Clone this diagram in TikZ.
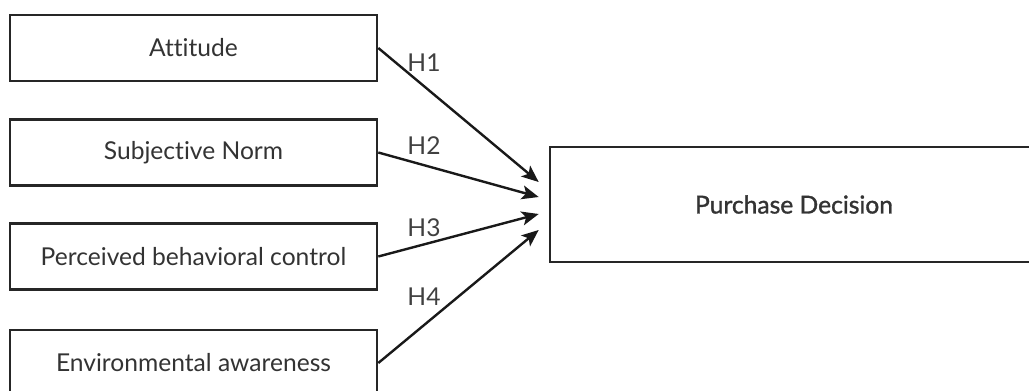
\documentclass[tikz,border=0pt]{standalone}
\usepackage{fontspec}
\setmainfont{Lato}[Ligatures={NoCommon,NoContextual}]
\usetikzlibrary{arrows.meta}
\begin{document}
\begin{tikzpicture}[x=1pt,y=-1pt]
\tikzset{
  box/.style={draw=black!85,line width=2.6pt,minimum width=367pt,minimum height=66pt,inner sep=0pt,text=black!80,font=\fontsize{24.6}{30}\selectfont},
  hyp/.style={-{Stealth[length=17pt,width=14pt,inset=4pt]},line width=2.4pt,draw=black!90},
  lab/.style={text=black!75,font=\fontsize{24.6}{30}\selectfont}
}
\useasboundingbox (0,0) rectangle (1029,391);
% the four factors
\node[box] (att) at (193.5,48) {Attitude};
\node[box] (sn) at (193.5,152.5) {Subjective Norm};
\node[box] (pbc) at (193.5,256.5) {Perceived behavioral control};
\node[box] (env) at (193.5,363) {Environmental awareness};
% the outcome
\node[box,minimum width=488pt,minimum height=115pt,font=\fontsize{24.6}{30}\selectfont\addfontfeature{FakeBold=1.3}] (pd) at (794,204.5) {Purchase Decision};
% hypotheses
\draw[hyp] (att.east) -- ([xshift=-10pt,yshift=22.5pt]pd.west);
\draw[hyp] (sn.east) -- ([xshift=-10pt,yshift=7.5pt]pd.west);
\draw[hyp] (pbc.east) -- ([xshift=-10pt,yshift=-9.5pt]pd.west);
\draw[hyp] (env.east) -- ([xshift=-10pt,yshift=-25.5pt]pd.west);
\node[lab] (h1) at (424,63) {H1};
\node[lab] (h2) at (424,146) {H2};
\node[lab] (h3) at (424,228) {H3};
\node[lab] (h4) at (424,297) {H4};
\end{tikzpicture}
\end{document}
